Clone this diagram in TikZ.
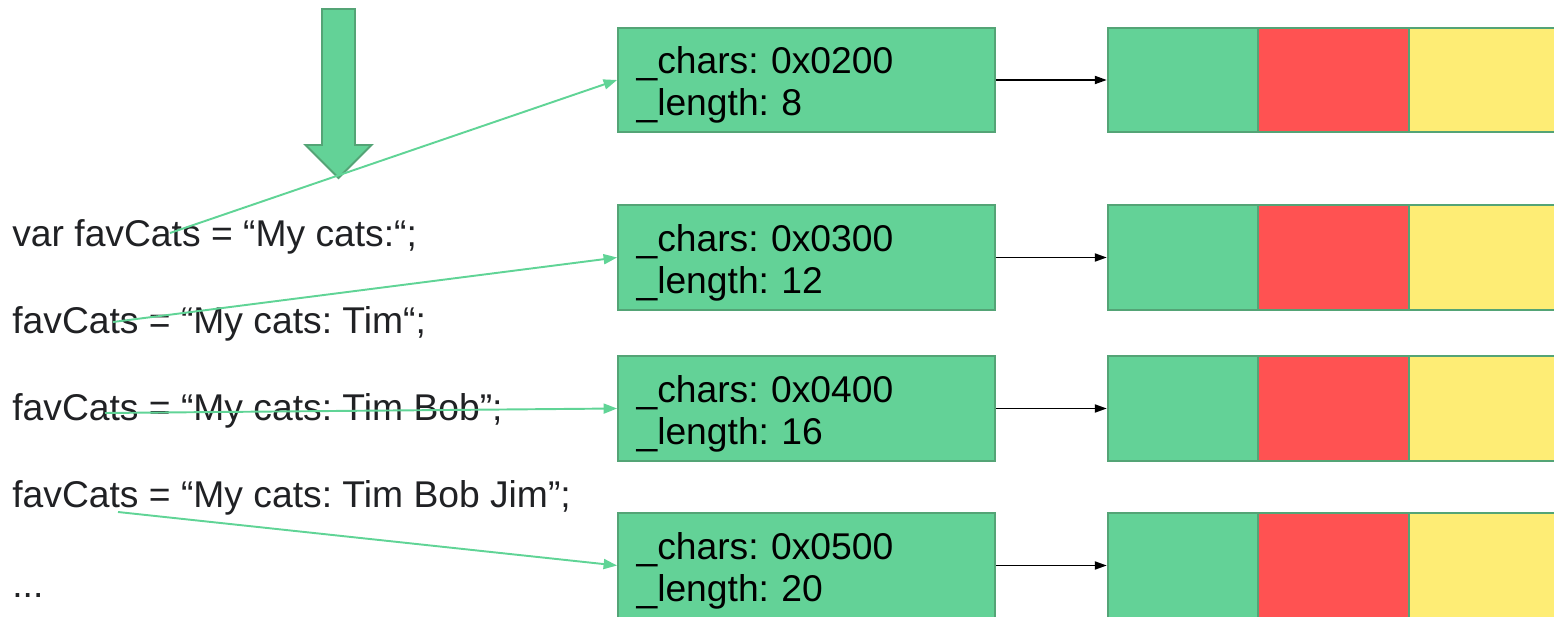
\documentclass[tikz,border=0pt]{standalone}
\usepackage{fontspec}
\setmainfont{Liberation Sans}
\usetikzlibrary{arrows.meta}
\definecolor{boxgreen}{RGB}{99,210,151}
\definecolor{edgegreen}{RGB}{84,164,118}
\definecolor{ptrgreen}{RGB}{96,212,150}
\definecolor{cellred}{RGB}{255,82,82}
\definecolor{cellyellow}{RGB}{254,237,117}
\definecolor{codegray}{RGB}{32,33,36}
\frenchspacing

\tikzset{
	codeline/.style={anchor=base west, inner sep=0pt, text=codegray, font=\fontsize{21.2}{24}\selectfont},
	strbox/.style={draw=edgegreen, fill=boxgreen, line width=1.1pt, minimum width=7.54cm, minimum height=2.09cm,
		text width=6.8cm, inner xsep=0.36cm, align=left, font=\fontsize{21.2}{23.9}\selectfont},
	cell/.style={draw=edgegreen, line width=1.1pt, minimum width=3.01cm, minimum height=2.09cm, inner sep=0pt},
	ptr/.style={ptrgreen, line width=1.1pt, -{Triangle[length=0.27cm,width=0.2cm]}},
	dataptr/.style={black, line width=1.1pt, -{Triangle[length=0.24cm,width=0.16cm]}}
}

\begin{document}
\begin{tikzpicture}[x=0.02cm, y=-0.02cm]
	\useasboundingbox (0,0) rectangle (1554,617);
	\clip (0,0) rectangle (1554,617);
	% big arrow pointing at the first assignment
	\fill[boxgreen, draw=edgegreen, line width=1.1pt] (322,9) -- (355,9) -- (355,145) -- (371.5,145)
		-- (338.5,178) -- (305.5,145) -- (322,145) -- cycle;
	% code lines
	\node[codeline] (code1) at (12,247) {var favCats = “My cats:“;};
	\node[codeline] (code2) at (12,334) {favCats = “My cats: Tim“;};
	\node[codeline] (code3) at (12,421) {favCats = “My cats: Tim Bob”;};
	\node[codeline] (code4) at (12,508) {favCats = “My cats: Tim Bob Jim”;};
	\node[codeline] (code5) at (12,597) {...};
	% string headers and their char arrays
	\foreach \i/\yc/\addr/\len in {1/80/0200/8,2/257.5/0300/12,3/408.5/0400/16,4/565.5/0500/20}{
		\node[strbox] (str\i) at (806.5,\yc) {\rule{0pt}{0.74cm}\_chars: 0x\addr\\\_length: \len};
		\node[cell, fill=boxgreen] (arr\i-a) at (1183,\yc) {};
		\node[cell, fill=cellred] (arr\i-b) at (1333.5,\yc) {};
		\node[cell, fill=cellyellow] (arr\i-c) at (1484.5,\yc) {};
		\draw[dataptr] (str\i) -- (arr\i-a);
	}
	% where each variable points
	\coordinate (src1) at (170,233);
	\coordinate (src2) at (113,322);
	\coordinate (src3) at (105,413);
	\coordinate (src4) at (118,512);
	\foreach \k in {1,2,3,4}
		\draw[ptr] (src\k) -- (str\k.west);
\end{tikzpicture}
\end{document}
